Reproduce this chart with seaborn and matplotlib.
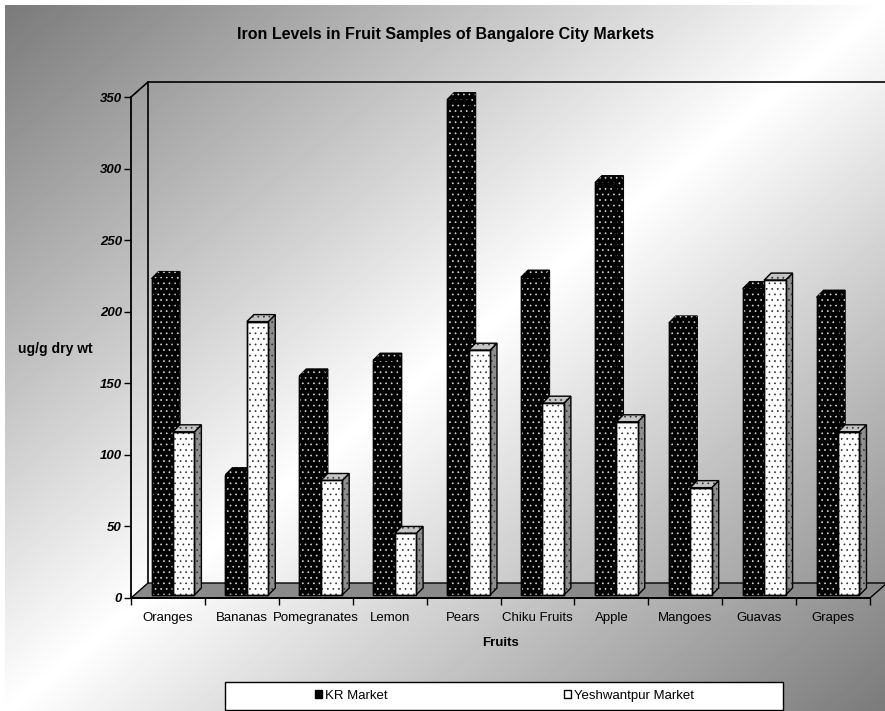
import numpy as np
import pandas as pd
import matplotlib
matplotlib.use("Agg")
import matplotlib.pyplot as plt
import seaborn as sns
from matplotlib.patches import Polygon, Rectangle, Patch
from matplotlib.transforms import ScaledTranslation

# ---- data -------------------------------------------------------------
fruits = ["Oranges", "Bananas", "Pomegranates", "Lemon", "Pears",
          "Chiku Fruits", "Apple", "Mangoes", "Guavas", "Grapes"]
kr_market = [221, 84, 153, 164, 346, 222, 288, 190, 214, 208]
yeshwantpur_market = [114, 191, 80, 43, 171, 134, 121, 75, 220, 114]
series_names = ["KR Market", "Yeshwantpur Market"]
y_ticks = [0, 50, 100, 150, 200, 250, 300, 350]

title = "Iron Levels in Fruit Samples of Bangalore City Markets"
x_title = "Fruits"
y_title = "ug/g dry wt"

df = pd.DataFrame({
    "Fruit": fruits * 2,
    "Market": [series_names[0]] * len(fruits) + [series_names[1]] * len(fruits),
    "Iron": kr_market + yeshwantpur_market,
})

# ---- figure -----------------------------------------------------------
W, H, DPI = 885, 711, 100
sns.set_theme(style="ticks")
plt.rcParams["font.family"] = ["Liberation Sans", "DejaVu Sans"]
plt.rcParams["hatch.linewidth"] = 0.5
for key in ["text.color", "axes.labelcolor", "xtick.color", "ytick.color",
            "xtick.labelcolor", "ytick.labelcolor"]:
    plt.rcParams[key] = "black"

fig = plt.figure(figsize=(W / DPI, H / DPI), dpi=DPI)

# diagonal grey-white-grey backdrop
bg = fig.add_axes([0, 0, 1, 1], zorder=-10)
yy, xx = np.mgrid[0:H, 0:W].astype(float)
t = ((xx - 5) / (W - 5) + (yy - 5) / (H - 5)) / 2.0
shade = 255 - 133 * np.abs(2 * t - 1)
shade[(xx < 5) | (yy < 5)] = 255
bg.imshow(shade, cmap="gray", vmin=0, vmax=255, aspect="auto",
          interpolation="bilinear")
bg.axis("off")

# front plane of the plot (pixel edges)
PX0, PX1, PY0, PY1 = 131, 870, 598, 97
ax = fig.add_axes([PX0 / W, 1 - PY0 / H, (PX1 - PX0) / W, (PY0 - PY1) / H])
ax.patch.set_alpha(0)

sns.barplot(data=df, x="Fruit", y="Iron", hue="Market",
            palette=["black", "white"], saturation=1, width=0.58,
            edgecolor="black", linewidth=1.0, legend=False, ax=ax)
bars = sorted([p for p in ax.patches if isinstance(p, Rectangle)],
              key=lambda r: r.get_x())
ax.set_xlim(-0.5, len(fruits) - 0.5)
ax.set_ylim(0, 350)

to_px = ax.transData.transform
to_data = ax.transData.inverted().transform

DEPTH = np.array([17.0, 15.0])    # wall depth in pixels
FRONT = np.array([5.0, 3.0])      # bar front offset from the front plane
BDEPTH = np.array([7.0, 7.0])     # bar depth
DOTS = "..."


def poly_px(points_px, **kw):
    pts = to_data(np.asarray(points_px, dtype=float))
    p = Polygon(pts, closed=True, transform=ax.transData, clip_on=False, **kw)
    ax.add_patch(p)
    return p


# floor
fl = to_px((-0.5, 0))
fr = to_px((len(fruits) - 0.5, 0))
poly_px([fl, fr, fr + DEPTH, fl + DEPTH], facecolor="#8a8a8a",
        edgecolor="black", lw=1.0, zorder=1)

# back wall outline
tl = to_px((-0.5, 350))
tr = to_px((len(fruits) - 0.5, 350))
for a, b in [(fl + DEPTH, tl + DEPTH), (tl + DEPTH, tr + DEPTH), (tl, tl + DEPTH)]:
    seg = to_data(np.array([a, b]))
    ax.plot(seg[:, 0], seg[:, 1], color="black", lw=1.2, clip_on=False, zorder=1)

# 3-D bars: side, top and dotted front for each seaborn bar
shift = ax.transData + ScaledTranslation(FRONT[0] / DPI, FRONT[1] / DPI,
                                         fig.dpi_scale_trans)
z = 3
for bar in bars:
    x, w, h = bar.get_x(), bar.get_width(), bar.get_height()
    dark = bar.get_facecolor()[0] < 0.5
    dot = "#d8d8d8" if dark else "#303030"
    top_col = "black" if dark else "#c4c4c4"
    side_col = "black" if dark else "#8e8e8e"

    br = to_px((x + w, 0)) + FRONT
    trp = to_px((x + w, h)) + FRONT
    tlp = to_px((x, h)) + FRONT

    side = [br, trp, trp + BDEPTH, br + BDEPTH]
    top = [tlp, trp, trp + BDEPTH, tlp + BDEPTH]
    poly_px(side, facecolor=side_col, edgecolor="black", lw=1.0, zorder=z)
    poly_px(side, fill=False, hatch=DOTS, edgecolor=dot, lw=0, zorder=z + 0.1)
    poly_px(top, facecolor=top_col, edgecolor="black", lw=1.0, zorder=z + 0.2)
    poly_px(top, fill=False, hatch=DOTS, edgecolor=dot, lw=0, zorder=z + 0.3)

    bar.set_transform(shift)
    bar.set_zorder(z + 0.4)
    bar.set_clip_on(False)
    ax.add_patch(Rectangle((x, 0), w, h, transform=shift, fill=False,
                           hatch=DOTS, edgecolor=dot, lw=0, zorder=z + 0.5,
                           clip_on=False))
    ax.add_patch(Rectangle((x, 0), w, h, transform=shift, fill=False,
                           edgecolor="black", lw=1.0, zorder=z + 0.6,
                           clip_on=False))
    z += 1

# axes, ticks, labels
for s in ["top", "right"]:
    ax.spines[s].set_visible(False)
for s in ["left", "bottom"]:
    ax.spines[s].set_color("black")
    ax.spines[s].set_linewidth(1.3)
    ax.spines[s].set_zorder(50)

ax.set_yticks(y_ticks)
ax.set_yticklabels([str(v) for v in y_ticks], fontsize=9.5,
                   fontweight="bold", fontstyle="italic")
ax.tick_params(axis="y", direction="out", length=5, width=1, pad=1.5,
               colors="black", left=True)
ax.set_xticks(range(len(fruits)))
ax.set_xticklabels(fruits, fontsize=9.5)
ax.set_xticks(np.arange(-0.5, len(fruits)), minor=True)
ax.tick_params(axis="x", which="major", length=0, pad=10, colors="black")
ax.tick_params(axis="x", which="minor", direction="out", length=5, width=1,
               bottom=True, colors="black")

ax.set_xlabel(x_title, fontsize=9.5, fontweight="bold")
ax.xaxis.set_label_coords(0.5, (PY0 - 643) / (PY0 - PY1))
ax.xaxis.label.set_va("center")
ax.set_ylabel(y_title, fontsize=10, fontweight="bold", rotation=0,
              ha="left", va="center")
ax.yaxis.set_label_coords((18 - PX0) / (PX1 - PX0), (PY0 - 349) / (PY0 - PY1))

fig.text(446 / W, 1 - 35 / H, title, ha="center", va="center",
         fontsize=11.5, fontweight="bold")

# legend
fig.patches.append(Rectangle((225 / W, 1 - 710 / H), (783 - 225) / W, 28 / H,
                             transform=fig.transFigure, facecolor="white",
                             edgecolor="black", lw=1.0, zorder=1))
handles = [Patch(facecolor="black", edgecolor="black"),
           Patch(facecolor="white", edgecolor="black")]
fig.legend(handles, series_names, loc="center",
           bbox_to_anchor=(504.5 / W, 1 - 696 / H), ncol=2, frameon=False,
           fontsize=9.5, handlelength=0.55, handleheight=0.55,
           handletextpad=0.25, columnspacing=13.3, borderpad=0)

fig.savefig("out.png", dpi=DPI)
